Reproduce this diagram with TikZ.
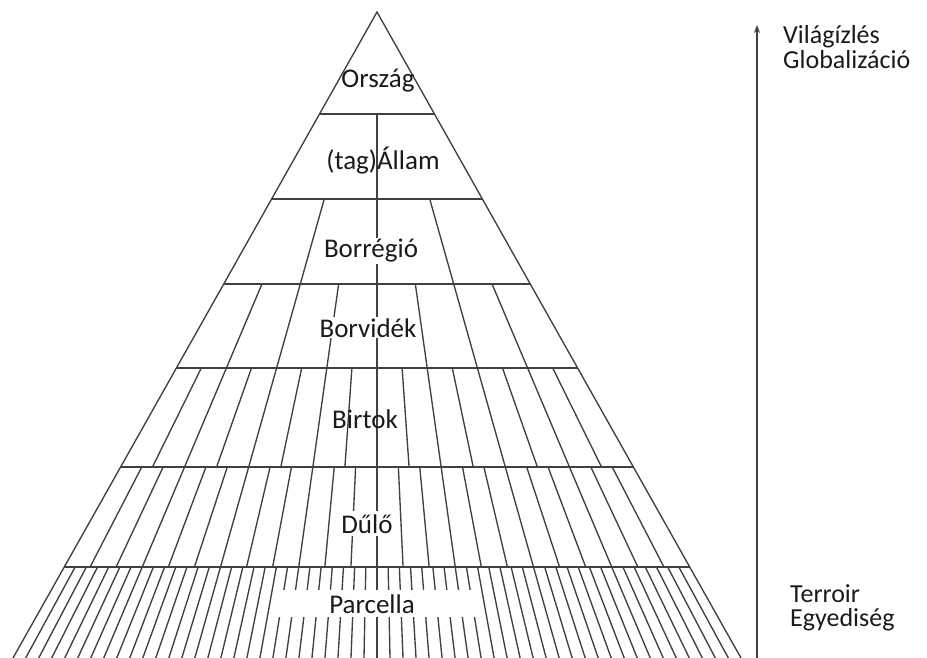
\documentclass[tikz,border=0pt]{standalone}
\usepackage{fontspec}
\setmainfont{Carlito}
\usetikzlibrary{arrows.meta}
\definecolor{linegray}{HTML}{404040}
\definecolor{textgray}{HTML}{1A1A1A}
\begin{document}
\begin{tikzpicture}[x=1pt,y=-1pt,
  pyr/.style={draw=linegray,line width=1.35pt},
  lvl/.style={font=\fontsize{27}{27}\selectfont,text=textgray,anchor=base,inner sep=0pt},
  lvlw/.style={lvl,fill=white,inner sep=1pt},
  side/.style={font=\fontsize{26}{26}\selectfont,text=textgray,anchor=base west,inner sep=0pt},
  axis/.style={draw=linegray,line width=1.6pt,-{Stealth[length=8pt,width=6pt]}}]
\useasboundingbox (0,0) rectangle (927,658);
\def\k{0.564}
% outline of the pyramid
\coordinate (apex) at (377,12);
\coordinate (bl) at (13,658);
\coordinate (br) at (741,658);
\draw[pyr] (bl) -- (apex) -- (br);
% horizontal band lines
\foreach \y in {114,199,284,368,467,567}
  \draw[pyr] ({377-\k*(\y-12)},\y) -- ({377+\k*(\y-12)},\y);
% radiating dividers in every band
\foreach \t/\b/\n in {114/199/2,199/284/4,284/368/8,368/467/16,467/567/24,567/658/56}{
  \pgfmathtruncatemacro\m{\n-1}
  \foreach \i in {1,...,\m}{
    \pgfmathsetmacro\f{2*\i/\n-1}
    \draw[pyr] ({377+\f*\k*(\t-12)},\t) -- ({377+\f*\k*(\b-12)},\b);
  }
}
% labels of the levels
\node[lvl] (orszag) at (378,88) {Ország};
\node[lvl] (allam) at (383,170) {(tag)Állam};
\node[lvlw] (borregio) at (371,258) {Borrégió};
\node[lvlw] (borvidek) at (368,337) {Borvidék};
\node[lvl] (birtok) at (365,428) {Birtok};
\node[lvlw,inner sep=3pt] (dulo) at (367,533) {Dűlő};
\node[fill=white,minimum width=207pt,minimum height=27pt,inner sep=0pt] (parcbox) at (376.5,603.5) {};
\node[lvl] (parcella) at (372,613) {Parcella};
% axis arrow
\coordinate (axbot) at (757,658);
\coordinate (axtop) at (757,25);
\draw[axis] (axbot) -- (axtop);
\node[side] (vilag) at (783,44) {Világízlés};
\node[side] (glob) at (783,69) {Globalizáció};
\node[side] (terroir) at (790,602) {Terroir};
\node[side] (egyed) at (790,626) {Egyediség};
\end{tikzpicture}
\end{document}
